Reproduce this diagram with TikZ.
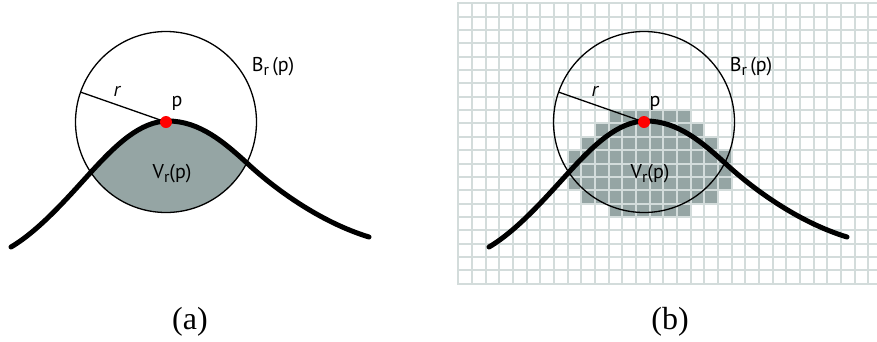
\documentclass[tikz,border=0pt]{standalone}
\usepackage{fontspec}
\setmainfont{Liberation Serif}
\newfontfamily\lab{PT Sans}
\definecolor{vgray}{HTML}{95A5A4}
\definecolor{gridc}{HTML}{D3DCDB}
\newcommand\mysub[1]{\raisebox{-0.35ex}{\fontsize{16}{16}\selectfont #1}}
\newcommand\bumpplot{(11,247) .. controls (40,230) and (70,195) .. (92,171) .. controls (115,146) and (140,121) .. (168,121) .. controls (200,121) and (225,143) .. (248,164) .. controls (275,189) and (320,222) .. (369,237)}
\newcommand\commonparts{%
  \coordinate (p) at (166,122);
  \draw[ball] (p) circle[radius=90.5pt];
  \coordinate (rend) at ($(p)+(160.7:90.5pt)$);
  \draw[ball] (p) -- (rend);
  \draw[curve] \bumpplot;
  \node[dot] (pd) at (p) {};
  \node[lbl] (rl) at (117,91) {\itshape r};
  \node[lbl] (pl) at (177,103) {p};
  \node[lbl] (bl) at (273,67) {B\mysub{r}\,(p)};
  \node[lbl] (vl) at (172,174) {V\mysub{r}(p)};
}
\usetikzlibrary{calc}
\begin{document}
\begin{tikzpicture}[x=1pt,y=-1pt,
  curve/.style={line width=5pt, line cap=round},
  ball/.style={line width=1.3pt},
  gridline/.style={gridc, line width=2pt},
  lbl/.style={font=\lab\fontsize{20}{20}\selectfont, inner sep=0pt},
  captext/.style={font=\fontsize{32}{32}\selectfont, inner sep=0pt},
  dot/.style={circle, fill=red, inner sep=0pt, minimum size=12pt}]
\useasboundingbox (0,0) rectangle (877,341);
\fill[white] (0,0) rectangle (877,341);
% panel (a)
\begin{scope}
  \coordinate (pa) at (166,122);
  \begin{scope}
    \clip (pa) circle[radius=90.5pt];
    \fill[vgray] \bumpplot -- (369,330) -- (11,330) -- cycle;
  \end{scope}
  \commonparts
\end{scope}
% panel (b) grid
\foreach \i/\j/\k in {11/16/8, 10/17/9, 9/18/10, 8/19/11, 8/19/12, 8/19/13, 9/18/14, 11/16/15}
  \fill[vgray] ({458.3+13.67*\i},{3.3+13.35*\k}) rectangle ({458.3+13.67*(\j+1)},{3.3+13.35*(\k+1)});
\foreach \i in {0,...,30}
  \draw[gridline] ({458.3+13.67*\i},2.3) -- ({458.3+13.67*\i},284.65);
\foreach \j in {0,...,21}
  \draw[gridline] (457.3,{3.3+13.35*\j}) -- (877,{3.3+13.35*\j});
\begin{scope}[xshift=478pt]
  \commonparts
\end{scope}
\node[captext] (ca) at (190,322) {(a)};
\node[captext] (cb) at (670,322) {(b)};
\end{tikzpicture}
\end{document}
